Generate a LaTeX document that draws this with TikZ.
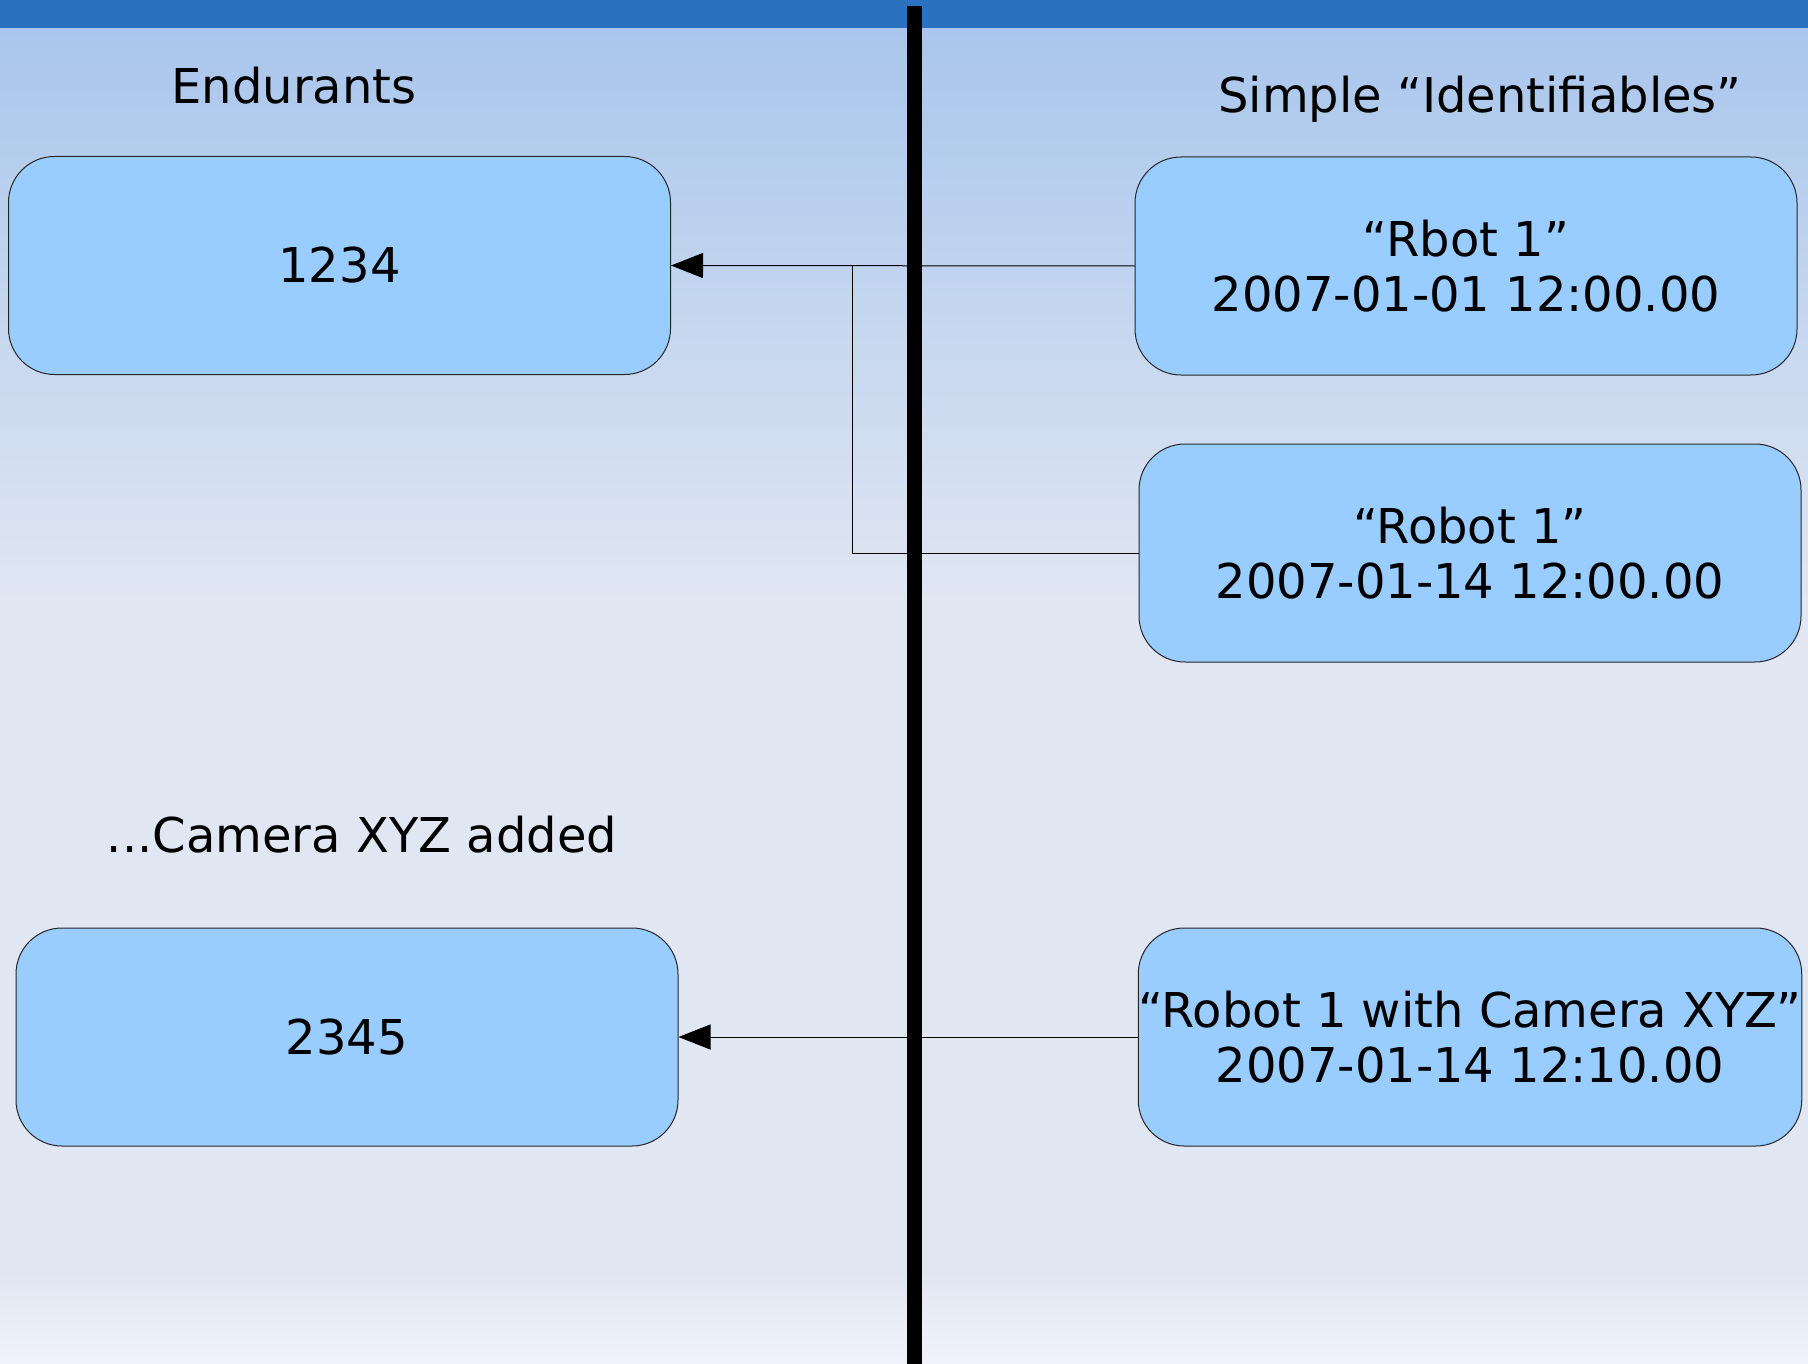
\documentclass[tikz,border=0pt]{standalone}
\usepackage{fontspec}
\setmainfont{DejaVu Sans}
\usetikzlibrary{arrows.meta}
\definecolor{barblue}{HTML}{2A71C0}
\definecolor{boxblue}{HTML}{99CCFF}
\definecolor{bgtop}{HTML}{A9C6EC}
\definecolor{bgmid}{HTML}{E0E6F2}
\definecolor{bglow}{HTML}{F0F3FA}
\tikzset{
  idbox/.style={draw=black!85, fill=boxblue, rounded corners=23pt, line width=0.5pt,
    minimum width=331pt, minimum height=109pt, inner sep=0pt, align=center},
  heading/.style={inner sep=0pt},
  link/.style={line width=0.5pt},
  linkarrow/.style={link, -{Triangle[length=16pt,width=12.5pt]}}
}
\begin{document}
\begin{tikzpicture}[x=0.5pt, y=-0.5pt, font=\fontsize{24pt}{27.6pt}\selectfont]
\useasboundingbox (0,0) rectangle (1808,1364);
% background
\fill[top color=bgtop, bottom color=bgmid] (0,28) rectangle (1808,600);
\fill[bgmid] (0,599) rectangle (1808,1271);
\fill[top color=bgmid, bottom color=bglow] (0,1270) rectangle (1808,1364);
\fill[barblue] (0,0) rectangle (1808,28);
% headings
\node[heading] (endur) at (294,86) {Endurants};
\node[heading] (ident) at (1480,99.5) {Simple “Identifiables”};
\node[heading] (added) at (362,835) {...Camera XYZ added};
% boxes
\node[idbox] (e1) at (339.5,265.5) {1234};
\node[idbox] (e2) at (347,1037) {2345};
\node[idbox] (rb) at (1466,266) {“Rbot 1”\\2007-01-01 12:00.00};
\node[idbox] (r1) at (1470,553) {“Robot 1”\\2007-01-14 12:00.00};
\node[idbox] (rc) at (1470,1037) {“Robot 1 with Camera XYZ”\\2007-01-14 12:10.00};
% links
\coordinate (join) at (852,265.5);
\draw[linkarrow] (rb.west) -- (e1.east);
\draw[link] (r1.west) -| (join);
\draw[linkarrow] (rc.west) -- (e2.east);
% divider
\coordinate (divtop) at (914,6);
\coordinate (divbot) at (914,1364);
\draw[line width=7.5pt] (divtop) -- (divbot);
\end{tikzpicture}
\end{document}
